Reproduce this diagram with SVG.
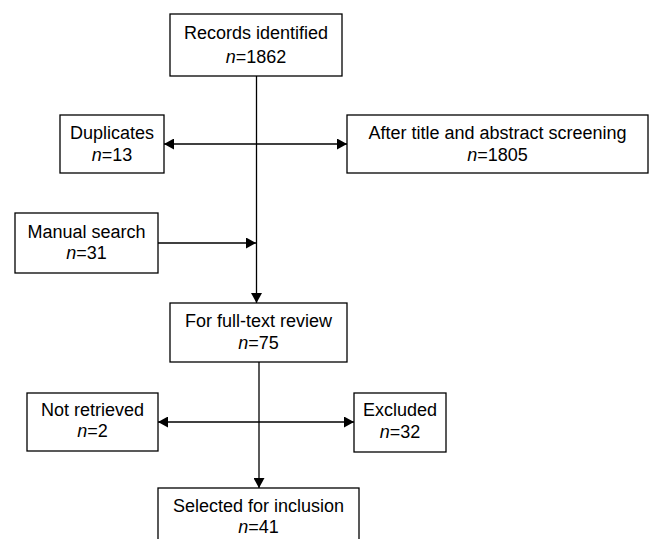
<svg xmlns="http://www.w3.org/2000/svg" width="649" height="539" viewBox="0 0 649 539">
<style>
.box{fill:#fff;stroke:#000;stroke-width:1.3}
.t{font-family:"Liberation Sans",Arial,sans-serif;font-size:18px;fill:#000;text-anchor:middle}
.c{stroke:#000;stroke-width:1.3;fill:none}
</style>
<defs>
<marker id="ah" viewBox="0 0 10 11" refX="10" refY="5.5" markerWidth="10" markerHeight="11" markerUnits="userSpaceOnUse" orient="auto-start-reverse">
<path d="M0,0 L10,5.5 L0,11 z" fill="#000"/>
</marker>
</defs>
<rect width="649" height="539" fill="#fff"/>
<g id="connectors">
<line class="c" x1="256.5" y1="76" x2="256.5" y2="303" marker-end="url(#ah)"/>
<line class="c" x1="164" y1="144" x2="347" y2="144" marker-start="url(#ah)" marker-end="url(#ah)"/>
<line class="c" x1="158" y1="243" x2="256" y2="243" marker-end="url(#ah)"/>
<line class="c" x1="259" y1="362" x2="259" y2="488" marker-end="url(#ah)"/>
<line class="c" x1="158" y1="422" x2="354" y2="422" marker-start="url(#ah)" marker-end="url(#ah)"/>
</g>
<g id="records">
<rect class="box" x="170" y="14" width="172" height="62"/>
<text class="t" x="256" y="39">Records identified</text>
<text class="t" x="256" y="63"><tspan font-style="italic">n</tspan>=1862</text>
</g>
<g id="duplicates">
<rect class="box" x="60" y="115" width="104" height="58"/>
<text class="t" x="112" y="139">Duplicates</text>
<text class="t" x="112" y="161"><tspan font-style="italic">n</tspan>=13</text>
</g>
<g id="screening">
<rect class="box" x="347" y="115" width="301" height="58"/>
<text class="t" x="497.5" y="139">After title and abstract screening</text>
<text class="t" x="497.5" y="161"><tspan font-style="italic">n</tspan>=1805</text>
</g>
<g id="manual">
<rect class="box" x="15" y="213" width="143" height="60"/>
<text class="t" x="86.5" y="238">Manual search</text>
<text class="t" x="86.5" y="259"><tspan font-style="italic">n</tspan>=31</text>
</g>
<g id="fulltext">
<rect class="box" x="170" y="303" width="177" height="59"/>
<text class="t" x="258.5" y="327">For full-text review</text>
<text class="t" x="258.5" y="349"><tspan font-style="italic">n</tspan>=75</text>
</g>
<g id="notretrieved">
<rect class="box" x="27" y="393" width="131" height="58"/>
<text class="t" x="92.5" y="416">Not retrieved</text>
<text class="t" x="92.5" y="437"><tspan font-style="italic">n</tspan>=2</text>
</g>
<g id="excluded">
<rect class="box" x="354" y="393" width="92" height="59"/>
<text class="t" x="400" y="416">Excluded</text>
<text class="t" x="400" y="438"><tspan font-style="italic">n</tspan>=32</text>
</g>
<g id="selected">
<rect class="box" x="158" y="488" width="201" height="60"/>
<text class="t" x="258.5" y="512">Selected for inclusion</text>
<text class="t" x="258.5" y="533"><tspan font-style="italic">n</tspan>=41</text>
</g>
</svg>
